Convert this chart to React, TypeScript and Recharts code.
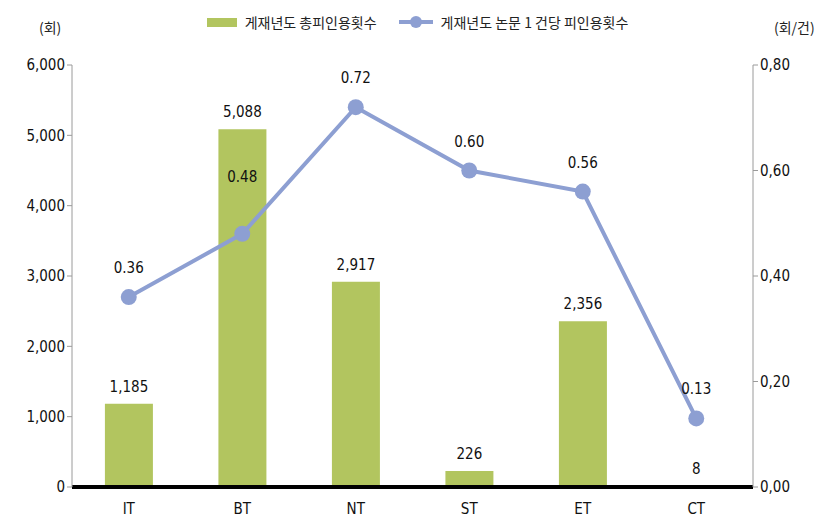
import { Bar, ComposedChart, LabelList, Line, XAxis, YAxis } from 'recharts';

const fields = ['IT', 'BT', 'NT', 'ST', 'ET', 'CT'];
const totalCites = [1185, 5088, 2917, 226, 2356, 8];
const citesPerPaper = [0.36, 0.48, 0.72, 0.6, 0.56, 0.13];
const leftTicks = [0, 1000, 2000, 3000, 4000, 5000, 6000];
const rightTicks = [0, 0.2, 0.4, 0.6, 0.8];

const barName = '게재년도 총피인용횟수';
const lineName = '게재년도 논문 1 건당 피인용횟수';

const data = fields.map((f, i) => ({ field: f, total: totalCites[i], perPaper: citesPerPaper[i] }));

const numFont = '"Liberation Sans Narrow", "DejaVu Sans Condensed", "DejaVu Sans", sans-serif';
const krFont = '"Noto Sans CJK KR", "Noto Sans", sans-serif';
const barColor = '#b2c55f';
const lineColor = '#8d9fd2';
const numStyle = { fontFamily: numFont, fontStretch: 'condensed', fontSize: 15, fill: '#111' } as any;

function LineLabel(props: any) {
  const { x, y, value, index } = props;
  const off = index === 1 ? 57 : 29;
  return (
    <text x={x} y={y - off} textAnchor="middle" dominantBaseline="central" style={numStyle}>
      {Number(value).toFixed(2)}
    </text>
  );
}

function LegendBox() {
  return (
    <div style={{ position: 'absolute', left: 0, top: 4, width: 819, display: 'flex', justifyContent: 'center', alignItems: 'center', fontFamily: krFont, fontSize: 14, color: '#222' }}>
      <span style={{ display: 'inline-block', width: 30, height: 9, background: barColor, marginRight: 8 }} />
      <span style={{ marginRight: 22 }}>{barName}</span>
      <svg width={34} height={14} style={{ marginRight: 8 }}>
        <line x1={0} y1={7} x2={34} y2={7} stroke={lineColor} strokeWidth={4} />
        <circle cx={17} cy={7} r={6} fill={lineColor} />
      </svg>
      <span>{lineName}</span>
    </div>
  );
}

export default function App() {
  return (
    <div style={{ position: 'relative', width: 819, height: 510 }}>
      <LegendBox />
      <div style={{ position: 'absolute', left: 31, top: 9, fontFamily: krFont, fontSize: 14, color: '#222' }}>(회)</div>
      <div style={{ position: 'absolute', left: 766, top: 9, fontFamily: krFont, fontSize: 14, color: '#222' }}>(회/건)</div>
      <ComposedChart width={819} height={510} data={data} margin={{ top: 57, right: 14, bottom: 0, left: 0 }} barCategoryGap="29%">
        <XAxis dataKey="field" height={31} axisLine={{ stroke: '#000', strokeWidth: 4 }} tickLine={false}
          tick={numStyle} tickMargin={10} />
        <YAxis yAxisId="left" width={64} domain={[0, 6000]} ticks={leftTicks}
          tickFormatter={(v: number) => v.toLocaleString('en-US')}
          axisLine={{ stroke: '#9a9a9a' }} tickLine={{ stroke: '#9a9a9a' }} tickSize={5}
          tick={numStyle} />
        <YAxis yAxisId="right" orientation="right" width={60} domain={[0, 0.8]} ticks={rightTicks}
          tickFormatter={(v: number) => v.toFixed(2).replace('.', ',')}
          axisLine={{ stroke: '#9a9a9a' }} tickLine={{ stroke: '#9a9a9a' }} tickSize={5}
          tick={numStyle} />
        <Bar yAxisId="left" dataKey="total" name={barName} fill={barColor} isAnimationActive={false}>
          <LabelList dataKey="total" position="top" offset={12}
            formatter={(v: any) => Number(v).toLocaleString('en-US')}
            style={numStyle} />
        </Bar>
        <Line yAxisId="right" dataKey="perPaper" name={lineName} stroke={lineColor} strokeWidth={4}
          dot={{ r: 8, fill: lineColor, stroke: lineColor, strokeWidth: 0 }} activeDot={false} isAnimationActive={false}>
          <LabelList dataKey="perPaper" content={LineLabel} />
        </Line>
      </ComposedChart>
    </div>
  );
}
